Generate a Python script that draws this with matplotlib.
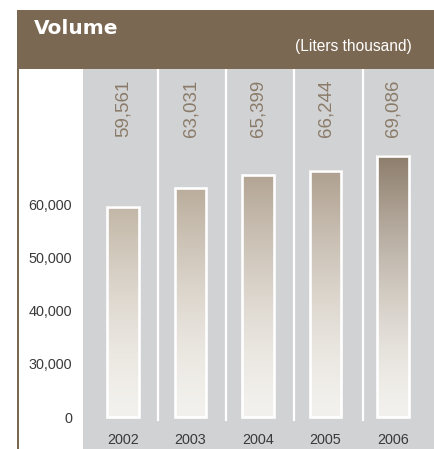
import numpy as np
import matplotlib
matplotlib.use("Agg")
import matplotlib.pyplot as plt
import matplotlib.transforms as mtransforms
from matplotlib.patches import Rectangle
from matplotlib.colors import to_rgb

# ---- data ----
years = ["2002", "2003", "2004", "2005", "2006"]
volumes = [59561, 63031, 65399, 66244, 69086]
ytick_values = [0, 30000, 40000, 50000, 60000]
ytick_labels = ["0", "30,000", "40,000", "50,000", "60,000"]
title = "Volume"
unit = "(Liters thousand)"

# ---- style ----
W, H = 434, 449
BROWN = "#7B6852"
GRAY = "#D1D2D4"
LIGHT = "#F3F1ED"
TOPS = ["#C2B6A6", "#BAAD9C", "#B3A594", "#AFA08F", "#8D7D6B"]
SANS = ["Liberation Sans", "DejaVu Sans"]

fig = plt.figure(figsize=(W / 100, H / 100), dpi=100)
fig.patch.set_facecolor("white")

# header band and left rule
fig.add_artist(Rectangle((17 / W, 1 - 69 / H), 1 - 17 / W, 59 / H,
                         transform=fig.transFigure, facecolor=BROWN, edgecolor="none"))
fig.add_artist(Rectangle((17 / W, 0), 2 / W, 1 - 69 / H,
                         transform=fig.transFigure, facecolor=BROWN, edgecolor="none"))
fig.text(34 / W, 1 - 28 / H, title, color="white", fontsize=14.5, fontweight="bold",
         family="DejaVu Sans", ha="left", va="center")
fig.text(412 / W, 1 - 47 / H, unit, color="white", fontsize=11.2, family=SANS,
         ha="right", va="center")

ax = fig.add_axes([83 / W, 0, 1 - 83 / W, (H - 69) / H])
ax.set_facecolor(GRAY)
for s in ax.spines.values():
    s.set_visible(False)


def fwd(v):
    v = np.asarray(v, dtype=float)
    return np.where(v < 30000, v / 3.0, v - 20000.0)


def inv(y):
    y = np.asarray(y, dtype=float)
    return np.where(y < 10000, y * 3.0, y + 20000.0)


ax.set_yscale("function", functions=(fwd, inv))
xpos = np.arange(len(years))
ax.set_xlim(-0.593, len(years) - 1 + 0.607)
ax.set_ylim(-18045, 85414)

ax.set_yticks(ytick_values)
ax.set_yticklabels(ytick_labels, family=SANS, fontsize=10.4, color="#3A3A3A")
ax.yaxis.set_minor_locator(matplotlib.ticker.NullLocator())
ax.tick_params(axis="y", length=0, pad=8)
ax.set_xticks([])

# separators
for k in range(len(years) - 1):
    ax.axvline(k + 0.52 + 0.01 * k, ymin=(H - 420) / (H - 69), ymax=1,
               color="white", lw=1.6, zorder=1)

bars = ax.bar(xpos, volumes, width=0.47, facecolor="none", edgecolor="white",
              linewidth=1.9, zorder=4)

to_axes = ax.transData + ax.transAxes.inverted()
light = np.array(to_rgb(LIGHT))
n = 256
t = np.linspace(0, 1, n) ** 1.5
for rect, top in zip(bars.patches, TOPS):
    x0, y0 = rect.get_x(), rect.get_y()
    x1, y1 = x0 + rect.get_width(), y0 + rect.get_height()
    (ax0, ay0), (ax1, ay1) = to_axes.transform([[x0, y0], [x1, y1]])
    topc = np.array(to_rgb(top))
    grad = light[None, :] + (topc - light)[None, :] * t[:, None]
    img = grad[:, None, :]
    ax.imshow(img, extent=(ax0, ax1, ay0, ay1), transform=ax.transAxes,
              origin="lower", aspect="auto", interpolation="bilinear", zorder=3)

ax.set_xlim(-0.593, len(years) - 1 + 0.607)
ax.set_ylim(-18045, 85414)

blend = mtransforms.blended_transform_factory(ax.transData, ax.transAxes)
for x, v, yr in zip(xpos, volumes, years):
    ax.text(x, 1 - (108 - 69) / (H - 69), f"{v:,}", rotation=90, transform=blend,
            ha="center", va="center", color="#8B7B69", fontsize=13.5, family=SANS)
    ax.text(x, (H - 440) / (H - 69), yr, transform=blend, ha="center", va="center",
            color="#3A3A3A", fontsize=10.4, family=SANS)

fig.savefig("out.png", dpi=100, facecolor="white")
